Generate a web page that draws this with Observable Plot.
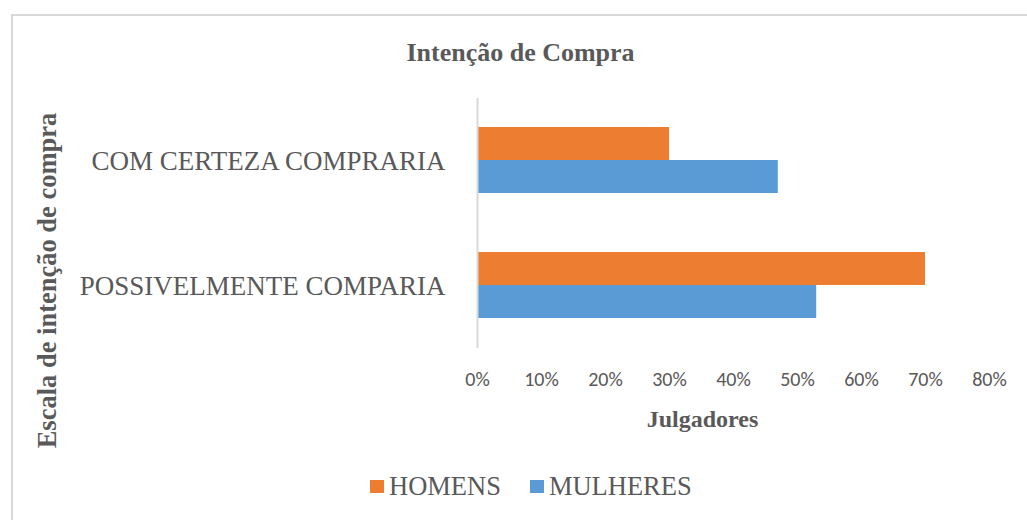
<!DOCTYPE html>
<html>
<head>
<meta charset="utf-8">
<script src="https://cdn.jsdelivr.net/npm/d3@7"></script>
<script src="https://cdn.jsdelivr.net/npm/@observablehq/plot@0.6"></script>
<style>
  html, body { margin: 0; padding: 0; background: #fff; overflow: hidden; }
  #chart { position: relative; width: 1027px; height: 520px; overflow: hidden; background: #fff; }
  #border { position: absolute; left: 11px; top: 14px; width: 1100px; height: 600px;
            border: 2px solid #d9d9d9; box-sizing: border-box; pointer-events: none; }
  #plot { position: absolute; left: 0; top: 0; }
  #legend { position: absolute; left: 370px; top: 473px; display: flex; align-items: center;
            font-family: "Liberation Serif", "Times New Roman", serif; font-size: 26.5px; color: #595959; line-height: 26px; }
  .item { display: flex; align-items: center; }
  .sw { width: 14px; height: 13px; margin-right: 5px; }
</style>
</head>
<body>
<div id="chart">
  <div id="plot"></div>
  <div id="legend"></div>
  <div id="border"></div>
</div>
<script>
// ---- data ----
const categories = ["COM CERTEZA COMPRARIA", "POSSIVELMENTE COMPARIA"];
const seriesNames = ["HOMENS", "MULHERES"];
const homens = [0.30, 0.70];
const mulheres = [0.47, 0.53];
const seriesColors = ["#ED7D31", "#5B9BD5"];
const xTicks = [0, 0.1, 0.2, 0.3, 0.4, 0.5, 0.6, 0.7, 0.8];
const title = "Intenção de Compra";
const xTitle = "Julgadores";
const yTitle = "Escala de intenção de compra";

const homensRows = categories.map((c, i) => ({category: c, series: seriesNames[0], value: homens[i]}));
const mulheresRows = categories.map((c, i) => ({category: c, series: seriesNames[1], value: mulheres[i]}));

const gray = "#595959";
const serif = "'Liberation Serif', 'Times New Roman', serif";

const plot = Plot.plot({
  width: 1027,
  height: 520,
  marginTop: 98,
  marginBottom: 172,
  marginLeft: 477,
  marginRight: 38,
  style: {background: "transparent", overflow: "visible"},
  x: {domain: [0, 0.8], ticks: xTicks},
  y: {domain: categories, padding: 0},
  color: {domain: seriesNames, range: seriesColors},
  marks: [
    Plot.barX(homensRows, {x: "value", y: "category", fill: "series", insetTop: 29, insetBottom: 63}),
    Plot.barX(mulheresRows, {x: "value", y: "category", fill: "series", insetTop: 62, insetBottom: 30}),
    Plot.ruleX([0], {stroke: "#d9d9d9", strokeWidth: 2}),
    Plot.axisX({ticks: xTicks, tickFormat: d3.format(".0%"), tickSize: 0, tickPadding: 23,
                label: null, fontSize: 20, fontFamily: "Carlito, Calibri, Lato, sans-serif", fill: gray}),
    Plot.axisY({tickSize: 0, tickPadding: 32, label: null, fontSize: 27, fontFamily: serif, fill: gray}),
    Plot.text([title], {frameAnchor: "top-left", dx: 43, dy: -46, textAnchor: "middle", lineAnchor: "middle",
                        fontSize: 26, fontWeight: "bold", fontFamily: serif, fill: gray}),
    Plot.text([xTitle], {frameAnchor: "bottom", dx: -31, dy: 71, lineAnchor: "middle",
                         fontSize: 24, fontWeight: "bold", fontFamily: serif, fill: gray}),
    Plot.text([yTitle], {frameAnchor: "left", dx: -430, dy: 57, rotate: -90, textAnchor: "middle", lineAnchor: "middle",
                         fontSize: 26.5, fontWeight: "bold", fontFamily: serif, fill: gray})
  ]
});
document.getElementById("plot").appendChild(plot);

const legend = d3.select("#legend");
seriesNames.forEach((s, i) => {
  const item = legend.append("div").attr("class", "item").style("margin-right", i === 0 ? "29px" : "0");
  item.append("div").attr("class", "sw").style("background", seriesColors[i]);
  item.append("span").text(s);
});
</script>
</body>
</html>
